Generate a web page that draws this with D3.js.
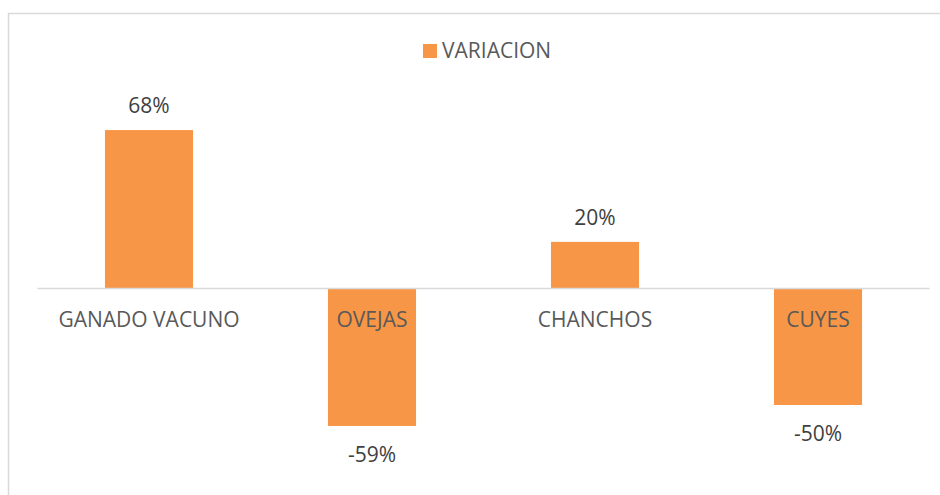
<!DOCTYPE html>
<html>
<head>
<meta charset="utf-8">
<script src="https://cdn.jsdelivr.net/npm/d3@7"></script>
<style>
  body { margin: 0; background: #fff; }
  text { font-family: "Open Sans", sans-serif; }
</style>
</head>
<body>
<div id="chart"></div>
<script>
// chart data
const categories = ['GANADO VACUNO', 'OVEJAS', 'CHANCHOS', 'CUYES'];
const variacion = [0.68, -0.59, 0.20, -0.50];
const seriesName = 'VARIACION';

const width = 940, height = 495;

const svg = d3.select('#chart')
    .append('svg')
    .attr('width', width)
    .attr('height', height);

// chart border
svg.append('rect')
    .attr('x', 8.5)
    .attr('y', 13.5)
    .attr('width', 940)
    .attr('height', 500)
    .attr('fill', 'none')
    .attr('stroke', '#d9d9d9')
    .attr('stroke-width', 1.5);

const x = d3.scaleBand()
    .domain(categories)
    .range([37.5, 929.5])
    .paddingInner(0.605)
    .paddingOuter(0.3025);

const y = d3.scaleLinear()
    .domain([-0.8, 0.8])
    .range([288.5 + 0.8 * 233, 288.5 - 0.8 * 233]);

// bars
svg.selectAll('rect.bar')
    .data(variacion)
    .enter()
    .append('rect')
    .attr('class', 'bar')
    .attr('x', (d, i) => x(categories[i]))
    .attr('y', d => y(Math.max(0, d)))
    .attr('width', x.bandwidth())
    .attr('height', d => Math.abs(y(d) - y(0)))
    .attr('fill', '#f79646');

// zero axis line
svg.append('line')
    .attr('x1', 37.5)
    .attr('x2', 929.5)
    .attr('y1', y(0))
    .attr('y2', y(0))
    .attr('stroke', '#d9d9d9')
    .attr('stroke-width', 1.5);

// category labels just below the axis
svg.selectAll('text.cat')
    .data(categories)
    .enter()
    .append('text')
    .attr('class', 'cat')
    .attr('x', d => x(d) + x.bandwidth() / 2)
    .attr('y', y(0) + 38)
    .attr('text-anchor', 'middle')
    .attr('fill', '#595959')
    .attr('font-size', '21px')
    .text(d => d);

// data labels
svg.selectAll('text.val')
    .data(variacion)
    .enter()
    .append('text')
    .attr('class', 'val')
    .attr('x', (d, i) => x(categories[i]) + x.bandwidth() / 2)
    .attr('y', d => d >= 0 ? y(d) - 17 : y(d) + 36)
    .attr('text-anchor', 'middle')
    .attr('fill', '#404040')
    .attr('font-size', '21px')
    .text(d => Math.round(d * 100) + '%');

// legend
const legend = svg.append('g').attr('transform', 'translate(423,44)');
legend.append('rect')
    .attr('width', 14)
    .attr('height', 14)
    .attr('fill', '#f79646');
legend.append('text')
    .attr('x', 19)
    .attr('y', 13.5)
    .attr('fill', '#595959')
    .attr('font-size', '21px')
    .text(seriesName);
</script>
</body>
</html>
